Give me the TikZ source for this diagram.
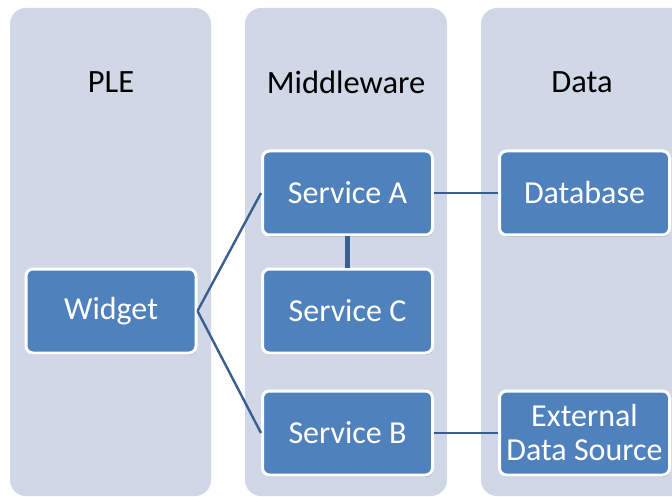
\documentclass[tikz,border=0pt]{standalone}
\usepackage{fontspec}
\setmainfont{Carlito}
\usetikzlibrary{shadows}
\definecolor{lane}{HTML}{D0D8E8}
\definecolor{boxfill}{HTML}{4F81BD}
\definecolor{wire}{HTML}{3A5F8F}
\tikzset{
  lanebox/.style={fill=lane, draw=none, rounded corners=16pt},
  header/.style={font=\fontsize{32.5}{36}\selectfont, text=black},
  svc/.style={fill=boxfill, draw=white, line width=3pt, rounded corners=7pt,
    minimum width=170pt, minimum height=84pt, text=white, align=center,
    font=\fontsize{32}{34}\selectfont,
    drop shadow={shadow xshift=0.8pt, shadow yshift=-1.8pt, opacity=0.25, fill=black}},
  link/.style={draw=wire, line width=2.4pt},
  thicklink/.style={draw=wire, line width=4.5pt}
}
\begin{document}
\begin{tikzpicture}[x=1pt, y=-1pt]
  \useasboundingbox (0,0) rectangle (672,497);
  \clip (0,0) rectangle (672,497);
  % swimlanes
  \fill[lanebox] (10,8) rectangle (211,496);
  \fill[lanebox] (245,8) rectangle (447,496);
  \fill[lanebox] (481,8) rectangle (700,496);
  % lane titles
  \node[header] (hple) at (111,82) {PLE};
  \node[header] (hmid) at (346,82) {Middleware};
  \node[header] (hdata) at (582,82) {Data};
  % components
  \node[svc] (widget) at (111,311) {Widget};
  \node[svc] (sa) at (347.5,193) {Service A};
  \node[svc] (sc) at (347.5,311) {Service C};
  \node[svc] (sb) at (347.5,433) {Service B};
  \node[svc] (db) at (584.5,193) {Database};
  \node[svc] (ext) at (584.5,433) {External\\Data Source};
  % connections
  \draw[link] (widget.east) -- (sa.west);
  \draw[link] (widget.east) -- (sb.west);
  \draw[thicklink] (sa.south) -- (sc.north);
  \draw[link] (sa.east) -- (db.west);
  \draw[link] (sb.east) -- (ext.west);
\end{tikzpicture}
\end{document}
